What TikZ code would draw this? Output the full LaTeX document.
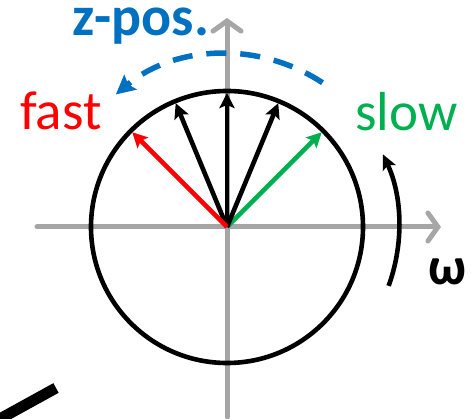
\documentclass[tikz,border=0pt]{standalone}
\usepackage{fontspec}
\setmainfont{Carlito}
\usetikzlibrary{arrows.meta}
\definecolor{axisgray}{HTML}{A6A6A6}
\definecolor{zblue}{HTML}{0070C0}
\definecolor{fastred}{HTML}{FF0000}
\definecolor{slowgreen}{HTML}{00B050}
\tikzset{
  axisline/.style={draw=axisgray, line width=5pt, line cap=round, -{Straight Barb[length=10pt,width=28pt,line cap=round]}},
  vec/.style={line width=4.6pt, -{Stealth[length=15pt,width=15pt,inset=3pt]}},
  bigtext/.style={inner sep=0pt, anchor=base west, font=\fontsize{55}{60}\selectfont},
}
\begin{document}
\begin{tikzpicture}[x=1pt,y=1pt]
\clip (-227,-192) rectangle (244,227);
\coordinate (O) at (0,0);
% axes
\coordinate (xs) at (-190,0);
\coordinate (xe) at (214,0);
\coordinate (ys) at (0,-190);
\coordinate (ye) at (0,209);
\draw[axisline] (xs) -- (xe);
\draw[axisline] (ys) -- (ye);
% circle
\draw[line width=4.6pt] (O) circle[radius=136];
% vectors
\coordinate (v1) at (45:134);
\coordinate (v2) at (67.5:134);
\coordinate (v3) at (90:134);
\coordinate (v4) at (112.5:134);
\coordinate (v5) at (135:134);
\draw[vec, slowgreen] (O) -- (v1);
\draw[vec] (O) -- (v2);
\draw[vec] (O) -- (v3);
\draw[vec] (O) -- (v4);
\draw[vec, fastred] (O) -- (v5);
% dashed z-pos arc
\coordinate (zs) at (56.5:173);
\draw[zblue, line width=5.5pt, dash pattern=on 20pt off 14pt, -{Stealth[length=19pt,width=19pt,inset=3pt]}]
  (zs) arc[start angle=56.5, end angle=130, radius=173];
% omega arc
\coordinate (ws) at (-20:172);
\draw[line width=4.6pt, -{Stealth[length=15pt,width=14pt,inset=3pt]}]
  (ws) arc[start angle=-20, end angle=25, radius=172];
% labels
\node[bigtext, fastred] (fast) at (-207,97) {fast};
\node[bigtext, slowgreen] (slow) at (128,96) {slow};
\node[bigtext, zblue, font=\fontsize{56}{60}\selectfont\bfseries] (zpos) at (-155,191) {z-pos.};
\node[bigtext, font=\fontsize{53}{60}\selectfont\bfseries] (omega) at (201,-58) {ω};
% partial thick line at lower left
\coordinate (l1) at (-171,-161);
\coordinate (l2) at (-240,-199);
\draw[line width=11pt] (l1) -- (l2);
\end{tikzpicture}
\end{document}
